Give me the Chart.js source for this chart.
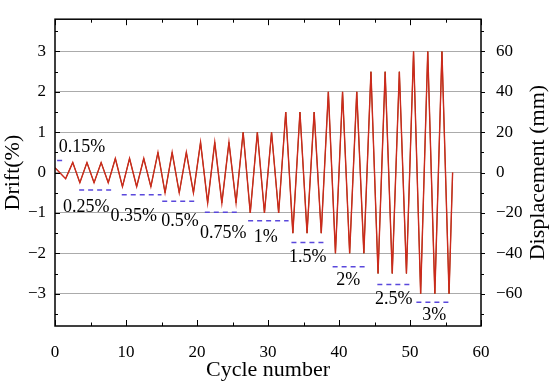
<!DOCTYPE html>
<html>
<head>
<meta charset="utf-8">
<script src="https://cdn.jsdelivr.net/npm/chart.js@4/dist/chart.umd.min.js"></script>
<style>
html, body { margin: 0; padding: 0; background: #fff; }
</style>
</head>
<body>
<canvas id="myChart" width="550" height="385"></canvas>
<script>
// loading protocol: peaks and troughs of the drift history
const cycleX = [0, 1.5,
    2.5, 3.5, 4.5, 5.5, 6.5, 7.5,
    8.5, 9.5, 10.5, 11.5, 12.5, 13.5,
    14.5, 15.5, 16.5, 17.5, 18.5, 19.5,
    20.5, 21.5, 22.5, 23.5, 24.5, 25.5,
    26.5, 27.5, 28.5, 29.5, 30.5, 31.5,
    32.5, 33.5, 34.5, 35.5, 36.5, 37.5,
    38.5, 39.5, 40.5, 41.5, 42.5, 43.5,
    44.5, 45.5, 46.5, 47.5, 48.5, 49.5,
    50.5, 51.5, 52.5, 53.5, 54.5, 55.5, 56];
const driftY = [0.12, -0.15,
    0.25, -0.25, 0.25, -0.25, 0.25, -0.25,
    0.35, -0.35, 0.35, -0.35, 0.35, -0.35,
    0.5, -0.5, 0.5, -0.5, 0.5, -0.5,
    0.75, -0.75, 0.75, -0.75, 0.75, -0.75,
    1, -1, 1, -1, 1, -1,
    1.5, -1.5, 1.5, -1.5, 1.5, -1.5,
    2, -2, 2, -2, 2, -2,
    2.5, -2.5, 2.5, -2.5, 2.5, -2.5,
    3, -3, 3, -3, 3, -3, 0];
const dispY = [2.4, -3,
    5, -5, 5, -5, 5, -5,
    7, -7, 7, -7, 7, -7,
    10, -10, 10, -10, 10, -10,
    15, -15, 15, -15, 15, -15,
    20, -20, 20, -20, 20, -20,
    30, -30, 30, -30, 30, -30,
    40, -40, 40, -40, 40, -40,
    50, -50, 50, -50, 50, -50,
    60, -60, 60, -60, 60, -60, 0];

// drift stage markers (blue dashes + text)
const stageLabels = ['0.15%', '0.25%', '0.35%', '0.5%', '0.75%', '1%', '1.5%', '2%', '2.5%', '3%'];
const labelX = [3.8, 4.4, 11.1, 17.6, 23.7, 29.7, 35.6, 41.3, 47.7, 53.4];
const labelY = [0.62, -0.86, -1.08, -1.2, -1.51, -1.61, -2.09, -2.66, -3.13, -3.54];
const dashX0 = [0.3, 3.4, 9.4, 15.1, 21.1, 27.2, 33.3, 39.1, 45.4, 50.9];
const dashX1 = [1.3, 8.2, 15.0, 20.0, 26.0, 32.9, 38.2, 43.8, 50.2, 55.7];
const dashY = [0.3, -0.43, -0.55, -0.71, -0.98, -1.19, -1.73, -2.33, -2.77, -3.21];

const serif = "'Liberation Serif', 'Times New Roman', serif";

let datasets = [];
for (let i = 0; i < stageLabels.length; i++) {
    datasets.push({
        data: [{x: dashX0[i], y: dashY[i]}, {x: dashX1[i], y: dashY[i]}],
        yAxisID: 'y',
        borderColor: '#5a48dc',
        borderWidth: 1.5,
        borderDash: [5, 4],
        pointRadius: 0
    });
}
datasets.push({
    data: cycleX.map((x, i) => ({x: x, y: driftY[i]})),
    yAxisID: 'y',
    borderColor: '#cc2a1c',
    borderWidth: 1.4,
    pointRadius: 0,
    tension: 0
});
datasets.push({
    data: cycleX.map((x, i) => ({x: x, y: dispY[i]})),
    yAxisID: 'y1',
    borderColor: '#7a4c12',
    borderWidth: 1,
    pointRadius: 0,
    tension: 0
});

function minus(v) {
    return v < 0 ? '\u2212' + Math.abs(v) : '' + v;
}

const stageText = {
    id: 'stageText',
    afterDatasetsDraw(chart) {
        const c = chart.ctx, sx = chart.scales.x, sy = chart.scales.y;
        c.save();
        c.font = '18px ' + serif;
        c.fillStyle = '#000';
        c.textAlign = 'center';
        c.textBaseline = 'middle';
        for (let i = 0; i < stageLabels.length; i++) {
            c.fillText(stageLabels[i], sx.getPixelForValue(labelX[i]), sy.getPixelForValue(labelY[i]));
        }
        c.restore();
    }
};

const frame = {
    id: 'frame',
    afterDraw(chart) {
        const c = chart.ctx, a = chart.chartArea;
        const sx = chart.scales.x, sy = chart.scales.y, sy1 = chart.scales.y1;
        c.save();
        c.strokeStyle = '#000';
        c.lineWidth = 1;
        c.beginPath();
        // x ticks, inward on bottom and top
        for (let v = 0; v <= 60; v += 5) {
            const px = Math.round(sx.getPixelForValue(v)) + 0.5;
            const len = v % 10 === 0 ? 6 : 3.5;
            c.moveTo(px, a.bottom); c.lineTo(px, a.bottom - len);
            c.moveTo(px, a.top); c.lineTo(px, a.top + len);
        }
        // left ticks, inward
        for (let v = -3.5; v <= 3.5; v += 0.5) {
            const py = Math.round(sy.getPixelForValue(v)) + 0.5;
            const len = Number.isInteger(v) ? 5 : 3;
            c.moveTo(a.left, py); c.lineTo(a.left + len, py);
        }
        // right ticks, outward
        for (let v = -70; v <= 70; v += 10) {
            const py = Math.round(sy1.getPixelForValue(v)) + 0.5;
            const len = v % 20 === 0 ? 4 : 3;
            c.moveTo(a.right, py); c.lineTo(a.right + len, py);
        }
        c.stroke();
        c.lineWidth = 1.5;
        c.strokeRect(a.left, a.top, a.right - a.left, a.bottom - a.top);

        // right axis title, reading bottom to top like the left one
        c.font = '22px ' + serif;
        c.fillStyle = '#000';
        c.textAlign = 'center';
        c.textBaseline = 'middle';
        c.translate(538, (a.top + a.bottom) / 2);
        c.rotate(-Math.PI / 2);
        c.fillText('Displacement (mm)', 0, 0);
        c.restore();
    }
};

var ctx = document.getElementById('myChart');
var myChart = new Chart(ctx, {
    type: 'line',
    data: { datasets: datasets },
    options: {
        responsive: false,
        animation: false,
        devicePixelRatio: 1,
        layout: { padding: { top: 9, right: 0, left: 0, bottom: 0 } },
        plugins: {
            legend: { display: false },
            tooltip: { enabled: false }
        },
        scales: {
            x: {
                type: 'linear',
                position: 'bottom',
                min: 0,
                max: 60,
                grid: { display: false },
                border: { display: false },
                ticks: {
                    stepSize: 10,
                    color: '#000',
                    padding: 8,
                    maxRotation: 0,
                    font: { family: serif, size: 17 }
                },
                title: {
                    display: true,
                    text: 'Cycle number',
                    color: '#000',
                    padding: { top: 0, bottom: 2 },
                    font: { family: serif, size: 22 }
                },
                afterFit(scale) { scale.height = 59; }
            },
            y: {
                position: 'left',
                min: -3.8,
                max: 3.8,
                grid: { color: '#ababab', lineWidth: 1, drawTicks: false },
                border: { display: false },
                ticks: {
                    stepSize: 1,
                    color: '#000',
                    padding: 9,
                    font: { family: serif, size: 17 },
                    callback: (v) => minus(v)
                },
                afterBuildTicks(scale) {
                    scale.ticks = scale.ticks.filter(t => Number.isInteger(t.value));
                },
                title: {
                    display: true,
                    text: 'Drift(%)',
                    color: '#000',
                    padding: 0,
                    font: { family: serif, size: 22 }
                },
                afterFit(scale) { scale.width = 55; }
            },
            y1: {
                position: 'right',
                min: -76,
                max: 76,
                grid: { display: false },
                border: { display: false },
                ticks: {
                    stepSize: 20,
                    color: '#000',
                    padding: 7,
                    font: { family: serif, size: 17 },
                    callback: (v) => minus(v)
                },
                afterBuildTicks(scale) {
                    scale.ticks = scale.ticks.filter(t => t.value % 20 === 0);
                },
                afterFit(scale) { scale.width = 69; }
            }
        }
    },
    plugins: [stageText, frame]
});
</script>
</body>
</html>
